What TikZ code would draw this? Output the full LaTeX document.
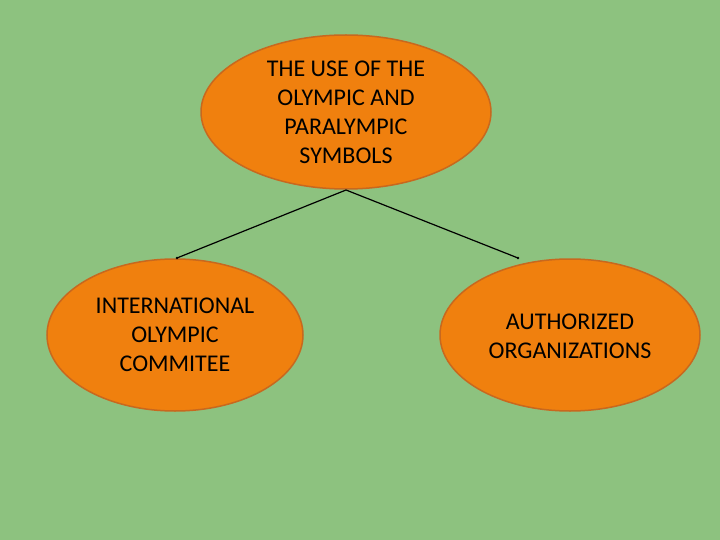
\documentclass[tikz,border=0pt]{standalone}
\usepackage{fontspec}
\setmainfont{Carlito}
\usetikzlibrary{shapes.geometric}
\definecolor{bggreen}{HTML}{8DC27F}
\definecolor{ovfill}{HTML}{F0800E}
\definecolor{ovdraw}{HTML}{C8681E}
\begin{document}
\begin{tikzpicture}[x=1pt,y=-1pt,
  oval/.style={ellipse, fill=ovfill, draw=ovdraw, line width=1.5pt, inner sep=0pt},
  lbl/.style={font=\fontsize{24}{29}\selectfont, align=center, text=black},
  conn/.style={draw=black, line width=1.2pt}]
\fill[bggreen] (0,0) rectangle (720,540);
\useasboundingbox (0,0) rectangle (720,540);
\node[oval, minimum width=290pt, minimum height=154pt] (top) at (346,112) {};
\node[oval, minimum width=256pt, minimum height=152pt] (left) at (175,335) {};
\node[oval, minimum width=260pt, minimum height=152pt] (right) at (570,335) {};
\node[lbl] (toptext) at (346,112) {THE USE OF THE\\OLYMPIC AND\\PARALYMPIC\\SYMBOLS};
\node[lbl] (lefttext) at (175,335) {INTERNATIONAL\\OLYMPIC\\COMMITEE};
\node[lbl] (righttext) at (570,336) {AUTHORIZED\\ORGANIZATIONS};
\coordinate (apex) at (346,190);
\coordinate (lend) at (177,258);
\coordinate (rend) at (518,258);
\draw[conn] (lend) -- (apex) -- (rend);
\fill (lend) circle (1.4pt);
\fill (rend) circle (1.4pt);
\end{tikzpicture}
\end{document}
